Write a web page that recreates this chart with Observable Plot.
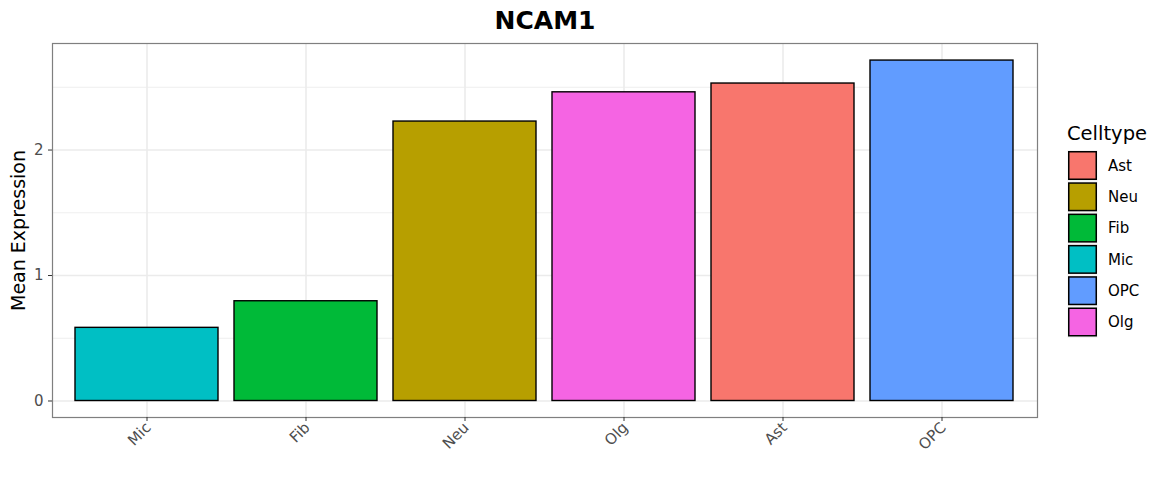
<!DOCTYPE html>
<html>
<head>
<meta charset="utf-8">
<script src="https://cdn.jsdelivr.net/npm/d3@7"></script>
<script src="https://cdn.jsdelivr.net/npm/@observablehq/plot@0.6"></script>
<style>
  html, body { margin: 0; padding: 0; background: #fff; }
  #wrap { position: relative; width: 1170px; height: 494px; font-family: "DejaVu Sans", sans-serif; }
  #legend { position: absolute; left: 1060px; top: 112px; }
</style>
</head>
<body>
<div id="wrap"><div id="chart"></div><div id="legend"></div></div>
<script>
// Data
const categories = ["Mic", "Fib", "Neu", "Olg", "Ast", "OPC"];
const values = [0.583, 0.795, 2.227, 2.46, 2.53, 2.713];
const legendOrder = ["Ast", "Neu", "Fib", "Mic", "OPC", "Olg"];
const legendColors = ["#F8766D", "#B79F00", "#00BA38", "#00BFC4", "#619CFF", "#F564E3"];
const yTicks = [0, 1, 2];
const yMinor = [0.5, 1.5, 2.5];
const title = "NCAM1";
const yLabel = "Mean Expression";
const legendTitle = "Celltype";

const data = categories.map((c, i) => ({cell: c, value: values[i]}));

const chart = Plot.plot({
  width: 1170,
  height: 494,
  marginLeft: 52,
  marginRight: 133,
  marginTop: 43,
  marginBottom: 77,
  style: {fontFamily: "DejaVu Sans, sans-serif", background: "#fff", overflow: "visible"},
  x: {domain: categories, paddingInner: 0.1, paddingOuter: 0.147, align: 0.5},
  y: {domain: [-0.1315, 2.849]},
  color: {domain: legendOrder, range: legendColors},
  marks: [
    Plot.gridY(yMinor, {stroke: "#ebebeb", strokeOpacity: 1, strokeWidth: 0.8}),
    Plot.gridY(yTicks, {stroke: "#ebebeb", strokeOpacity: 1, strokeWidth: 1.6}),
    Plot.gridX(categories, {stroke: "#ebebeb", strokeOpacity: 1, strokeWidth: 1.6}),
    Plot.barY(data, {x: "cell", y: "value", fill: "cell", stroke: "#000", strokeWidth: 1.4}),
    Plot.frame({stroke: "#7f7f7f", strokeWidth: 1.2}),
    Plot.axisY(yTicks, {tickSize: 4, tickPadding: 5, fontSize: 15, tickFormat: d3.format("d"), fill: "#4d4d4d", stroke: "#333", label: null}),
    Plot.axisX({tickSize: 4, tickRotate: -45, tickPadding: 5, fontSize: 15, fill: "#4d4d4d", stroke: "#333", label: null}),
    Plot.text([yLabel], {frameAnchor: "left", textAnchor: "middle", rotate: -90, dx: -34, fontSize: 19, fill: "#000"}),
    Plot.text([title], {frameAnchor: "top", lineAnchor: "middle", dy: -23, fontSize: 25, fontWeight: "bold", fill: "#000"})
  ]
});
document.getElementById("chart").appendChild(chart);

// Nudge rotated x tick labels slightly to match reference placement
d3.select(chart).selectAll("g[aria-label='x-axis tick label'] text")
  .attr("dx", function() { return (+d3.select(this).attr("dx") || 0) + 2; })
  .attr("dy", function() { return d3.select(this).attr("dy"); });

// Legend
const sw = 29, step = 31.3, top0 = 39;
const lsvg = d3.select("#legend").append("svg")
  .attr("width", 110).attr("height", 240)
  .style("font-family", "DejaVu Sans, sans-serif");
lsvg.append("text").attr("x", 7).attr("y", 28).attr("font-size", 19.5).attr("fill", "#000").text(legendTitle);
const g = lsvg.selectAll("g.key").data(legendOrder).join("g")
  .attr("transform", (d, i) => `translate(8,${top0 + i * step})`);
g.append("rect").attr("width", sw + 1).attr("height", step).attr("x", -0.5).attr("y", -1).attr("fill", "#f2f2f2");
g.append("rect").attr("x", 0.75).attr("y", 0.75).attr("width", sw - 1.5).attr("height", sw - 1.5)
  .attr("fill", (d, i) => legendColors[i]).attr("stroke", "#000").attr("stroke-width", 1.5);
g.append("text").attr("x", sw + 11).attr("y", sw / 2).attr("dy", "0.36em").attr("font-size", 15).attr("fill", "#000").text(d => d);
</script>
</body>
</html>
